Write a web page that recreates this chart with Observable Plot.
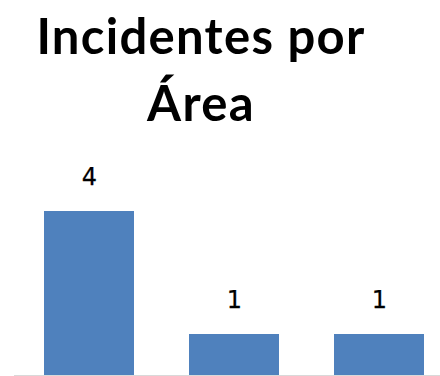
<!DOCTYPE html>
<html><head><meta charset="utf-8">
<script src="https://cdn.jsdelivr.net/npm/d3@7"></script>
<script src="https://cdn.jsdelivr.net/npm/@observablehq/plot@0.6"></script>
<style>
body{margin:0;background:#fff;}
#title{width:402px;height:140px;text-align:center;font-family:Lato,sans-serif;font-weight:700;font-size:49px;letter-spacing:1.3px;line-height:67px;padding-top:2px;box-sizing:border-box;color:#000;}
</style>
</head><body>
<div id="title">Incidentes por<br>Área</div>
<div id="chart"></div>
<script>
const categories = ["Área 1", "Área 2", "Área 3"];
const values = [4, 1, 1];
const data = categories.map((c, i) => ({cat: c, value: values[i]}));
const chart = Plot.plot({
  width: 440, height: 236,
  marginTop: 71, marginBottom: 1, marginLeft: 14, marginRight: 0,
  x: {domain: categories, range: [14, 455], paddingInner: 0.377, paddingOuter: 0.2, axis: null},
  y: {domain: [0, 4], axis: null},
  marks: [
    Plot.ruleY([0], {stroke: "#d9d9d9"}),
    Plot.barY(data, {x: "cat", y: "value", fill: "#4f81bd"}),
    Plot.text(data, {x: "cat", y: "value", text: d => String(d.value), dy: -34, fontSize: 24, fontFamily: "DejaVu Sans", fill: "#000", stroke: "#000", strokeWidth: 0.25})
  ]
});
document.getElementById("chart").append(chart);
</script>
</body></html>
